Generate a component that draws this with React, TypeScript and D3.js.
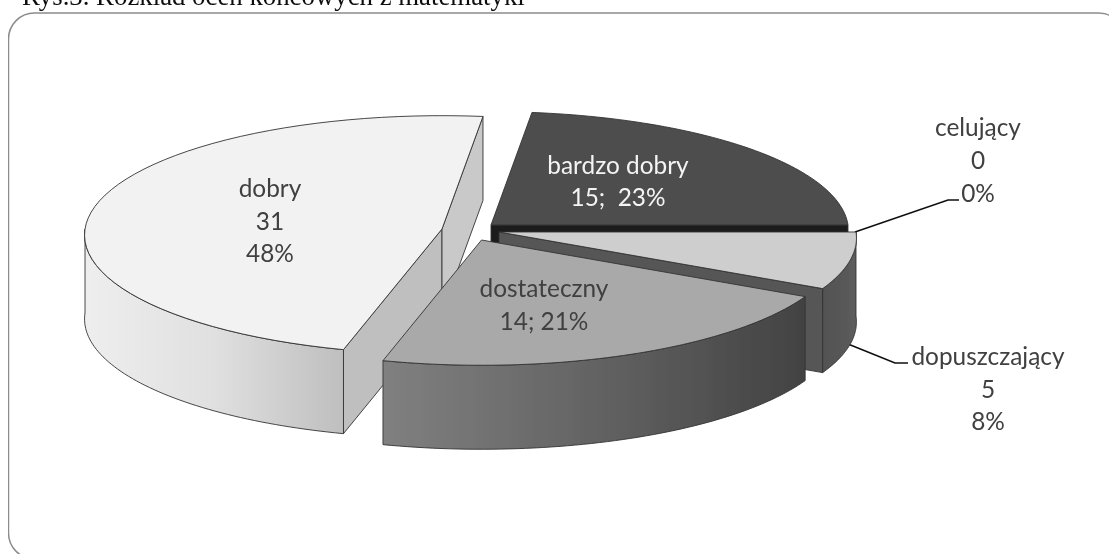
import React from 'react';
import * as d3 from 'd3';

const width = 1109;
const height = 554;

// Data, pie order goes clockwise from the top
const categories = ['bardzo dobry', 'celujący', 'dopuszczający', 'dostateczny', 'dobry'];
const counts = [15, 0, 5, 14, 31];
const percents = [23, 0, 8, 21, 48];

// Chart look
const radiusX = 357;
const radiusY = 119;
const perspective = 0.05;
const depth = 84;
const firstAngle = (6.92 * Math.PI) / 180;

const centres: Record<string, [number, number]> = {
  'bardzo dobry': [491, 225],
  dopuszczający: [499, 232],
  dostateczny: [481.5, 240],
  dobry: [442, 229],
};
const topFill: Record<string, string> = {
  'bardzo dobry': '#4d4d4d',
  dopuszczający: '#cecece',
  dostateczny: '#a9a9a9',
  dobry: '#f2f2f2',
};
const startFaceFill: Record<string, string> = { dobry: '#bfbfbf' };
const endFaceFill: Record<string, string> = {
  'bardzo dobry': '#1c1c1c',
  dopuszczający: '#565656',
  dobry: '#c9c9c9',
};
const drawOrder = ['dobry', 'bardzo dobry', 'dopuszczający', 'dostateczny'];

const labelPos: Record<string, { x: number; y: number; step: number; fill: string }> = {
  'bardzo dobry': { x: 618, y: 174, step: 32, fill: '#f4f4f4' },
  celujący: { x: 978, y: 136, step: 33, fill: '#404040' },
  dopuszczający: { x: 988, y: 365, step: 32.5, fill: '#404040' },
  dostateczny: { x: 544, y: 297, step: 33, fill: '#404040' },
  dobry: { x: 270, y: 197, step: 32.5, fill: '#404040' },
};

const leaderLines: [number, number][][] = [
  [[855, 232], [948, 200], [959, 200]],
  [[848, 344], [895, 363], [908, 363]],
];

// d3 pie angle -> screen point, a weak perspective makes the front a bit bigger
const project = (name: string, angle: number, r = 1, drop = 0): [number, number] => {
  const [cx, cy] = centres[name];
  const u = Math.sin(angle) * r;
  const v = -Math.cos(angle) * r;
  const s = 1 / (1 - perspective * v);
  return [cx + radiusX * u * s, cy + radiusY * v * s + drop];
};

const line = d3.line();

const arcPoints = (name: string, a0: number, a1: number, drop = 0) =>
  d3.range(0, 61).map((i) => project(name, a0 + ((a1 - a0) * i) / 60, 1, drop));

const App = () => {
  const pie = d3
    .pie<number>()
    .sort(null)
    .startAngle(firstAngle)
    .endAngle(firstAngle + 2 * Math.PI);
  const arcs = pie(counts);

  const lines = (i: number) => {
    const name = categories[i];
    if (name === 'bardzo dobry') return [name, `${counts[i]};\u00a0 ${percents[i]}%`];
    if (name === 'dostateczny') return [name, `${counts[i]}; ${percents[i]}%`];
    return [name, `${counts[i]}`, `${percents[i]}%`];
  };

  return (
    <svg
      width={width}
      height={height}
      style={{ position: 'absolute', left: 0, top: 0, display: 'block', background: '#fff' }}
    >
      <defs>
        <linearGradient id="wall-dobry" gradientUnits="userSpaceOnUse" x1={85} x2={342} y1={0} y2={0}>
          <stop offset="0" stopColor="#eeeeee" />
          <stop offset="0.5" stopColor="#e0e0e0" />
          <stop offset="1" stopColor="#bfbfbf" />
        </linearGradient>
        <linearGradient id="wall-dostateczny" gradientUnits="userSpaceOnUse" x1={382} x2={807} y1={0} y2={0}>
          <stop offset="0" stopColor="#808080" />
          <stop offset="0.45" stopColor="#666666" />
          <stop offset="1" stopColor="#424242" />
        </linearGradient>
        <linearGradient id="wall-dopuszczający" gradientUnits="userSpaceOnUse" x1={823} x2={856} y1={0} y2={0}>
          <stop offset="0" stopColor="#525252" />
          <stop offset="1" stopColor="#5c5c5c" />
        </linearGradient>
        <filter id="soft" x="0" y="0" width="100%" height="100%">
          <feGaussianBlur stdDeviation="0.35" />
        </filter>
      </defs>

      <g filter="url(#soft)">
        <text x={22} y={5} fontFamily="'Liberation Serif'" fontSize={26.8} fill="#111">
          Rys.3. Rozkład ocen końcowych z matematyki
        </text>

        <rect x={8.5} y={13} width={1116} height={546} rx={26} fill="none" stroke="#8c8c8c" strokeWidth={1.5} />

        {leaderLines.map((pts, i) => (
          <path key={i} d={line(pts) ?? ''} fill="none" stroke="#111" strokeWidth={1.6} />
        ))}

        {drawOrder.map((name) => {
          const arc = arcs[categories.indexOf(name)];
          const { startAngle: a0, endAngle: a1 } = arc;
          const apex = project(name, 0, 0);
          const apexLow = project(name, 0, 0, depth);
          const wallFrom = Math.max(a0, Math.PI / 2);
          const wallTo = Math.min(a1, (3 * Math.PI) / 2);
          const outline: [number, number][] = [apex, ...arcPoints(name, a0, a1)];
          const face = (angle: number): [number, number][] => [
            apex,
            project(name, angle),
            project(name, angle, 1, depth),
            apexLow,
          ];
          return (
            <g key={name} stroke="#333" strokeWidth={0.9} strokeLinejoin="round">
              {Math.sin(a0) < 0 && <path d={line(face(a0)) + 'Z'} fill={startFaceFill[name]} />}
              {Math.sin(a1) > 0 && <path d={line(face(a1)) + 'Z'} fill={endFaceFill[name]} />}
              {wallFrom < wallTo && (
                <path
                  d={line([...arcPoints(name, wallFrom, wallTo), ...arcPoints(name, wallFrom, wallTo, depth).reverse()]) + 'Z'}
                  fill={`url(#wall-${name})`}
                />
              )}
              <path d={line(outline) + 'Z'} fill={topFill[name]} />
            </g>
          );
        })}

        {categories.map((name, i) => {
          const pos = labelPos[name];
          return (
            <text key={name} fontFamily="Lato" fontSize={24.4} fill={pos.fill} textAnchor="middle">
              {lines(i).map((t, j) => (
                <tspan key={j} x={pos.x} y={pos.y + j * pos.step}>
                  {t}
                </tspan>
              ))}
            </text>
          );
        })}
      </g>
    </svg>
  );
};

export default App;
